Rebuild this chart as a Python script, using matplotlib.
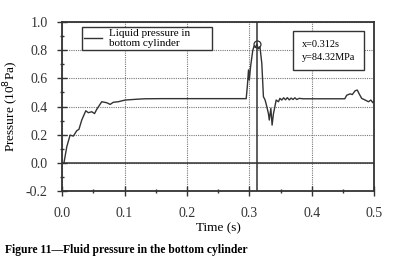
import matplotlib.pyplot as plt
from matplotlib.ticker import MultipleLocator

# data
t = [0.003, 0.0075, 0.0128, 0.018, 0.0235, 0.027, 0.0315, 0.038, 0.042, 0.0475,
     0.052, 0.0555, 0.0635, 0.0715, 0.077, 0.082, 0.090, 0.101, 0.117, 0.132,
     0.16, 0.2, 0.25, 0.295, 0.297, 0.2987, 0.300, 0.302, 0.3056, 0.3077,
     0.310, 0.312, 0.3146, 0.317, 0.32, 0.3226, 0.3253, 0.328, 0.3306, 0.332,
     0.3345, 0.3365, 0.3387, 0.341, 0.343, 0.3467, 0.349, 0.352, 0.355, 0.358,
     0.361, 0.364, 0.367, 0.370, 0.373, 0.376, 0.38, 0.386, 0.41, 0.43,
     0.453, 0.456, 0.4615, 0.465, 0.4696, 0.473, 0.476, 0.48, 0.4856, 0.491,
     0.4947, 0.498, 0.5]
p = [0, 0.114, 0.197, 0.19, 0.228, 0.238, 0.304, 0.37, 0.356, 0.363,
     0.35, 0.38, 0.434, 0.427, 0.415, 0.43, 0.434, 0.446, 0.451, 0.455,
     0.456, 0.456, 0.456, 0.456, 0.553, 0.66, 0.588, 0.683, 0.80, 0.83,
     0.82, 0.843, 0.81, 0.825, 0.707, 0.47, 0.446, 0.40, 0.35, 0.304,
     0.387, 0.268, 0.35, 0.40, 0.446, 0.434, 0.458, 0.446, 0.462, 0.448,
     0.463, 0.447, 0.46, 0.45, 0.462, 0.45, 0.458, 0.455, 0.455, 0.455,
     0.455, 0.48, 0.49, 0.485, 0.512, 0.517, 0.49, 0.458, 0.446, 0.434,
     0.446, 0.427, 0.44]
peak_t = 0.312
peak_p = 0.8432
x_ticks = [0.0, 0.1, 0.2, 0.3, 0.4, 0.5]
y_ticks = [-0.2, 0.0, 0.2, 0.4, 0.6, 0.8, 1.0]

plt.rcParams['font.family'] = ['Liberation Serif', 'DejaVu Serif']
dark = '#333333'

fig = plt.figure(figsize=(3.93, 2.69), dpi=100)
ax = fig.add_axes([0.158, 0.29, 0.794, 0.628])

ax.plot(t, p, color=dark, lw=1.0, label='Liquid pressure in\nbottom cylinder')
ax.axhline(0, color=dark, lw=1.1)
ax.axvline(peak_t, color=dark, lw=1.1)
ax.plot([peak_t], [peak_p], 'o', mfc='none', mec=dark, ms=5, mew=0.9)

ax.set_xlim(0, 0.5)
ax.set_ylim(-0.2, 1.0)
ax.set_xticks(x_ticks)
ax.set_yticks(y_ticks)
ax.set_xticklabels(['%.1f' % v for v in x_ticks])
ax.set_yticklabels(['%.1f' % v for v in y_ticks])
ax.xaxis.set_minor_locator(MultipleLocator(0.05))
ax.yaxis.set_minor_locator(MultipleLocator(0.1))
ax.tick_params(which='major', direction='inout', length=7, width=1, colors=dark,
               labelsize=10)
ax.tick_params(which='minor', direction='inout', length=3, width=1, colors=dark)
ax.tick_params(axis='x', pad=8)
ax.tick_params(axis='y', pad=7)
for s in ax.spines.values():
    s.set_color(dark)
    s.set_linewidth(1.3)

ax.grid(True, which='major', ls=(0, (1, 1)), color='#777777', lw=0.8)

ax.set_xlabel('Time (s)', fontsize=9.5, labelpad=2)
ax.set_ylabel('Pressure (10$^8$Pa)', fontsize=9.5, labelpad=3)

leg = ax.legend(loc='upper left', bbox_to_anchor=(0.064, 0.972, 0.417, 0.0),
                mode='expand', fontsize=8, frameon=True, fancybox=False,
                borderpad=0.2, handlelength=1.6, handletextpad=0.6,
                borderaxespad=0)
leg.get_frame().set_edgecolor(dark)
leg.get_frame().set_linewidth(1)
leg.get_frame().set_alpha(1)
for txt in leg.get_texts():
    txt.set_linespacing(1.15)

ax.text(0.769, 0.83, 'x=0.312s\ny=84.32MPa', transform=ax.transAxes, fontsize=7.4,
        va='center', ha='left', linespacing=1.5,
        bbox=dict(boxstyle='square,pad=0.85', fc='white', ec=dark, lw=1))

fig.text(0.013, 0.07, 'Figure 11\u2014Fluid pressure in the bottom cylinder',
         fontsize=8.4, fontweight='bold', ha='left', va='center')

fig.savefig('out.png', dpi=100)
